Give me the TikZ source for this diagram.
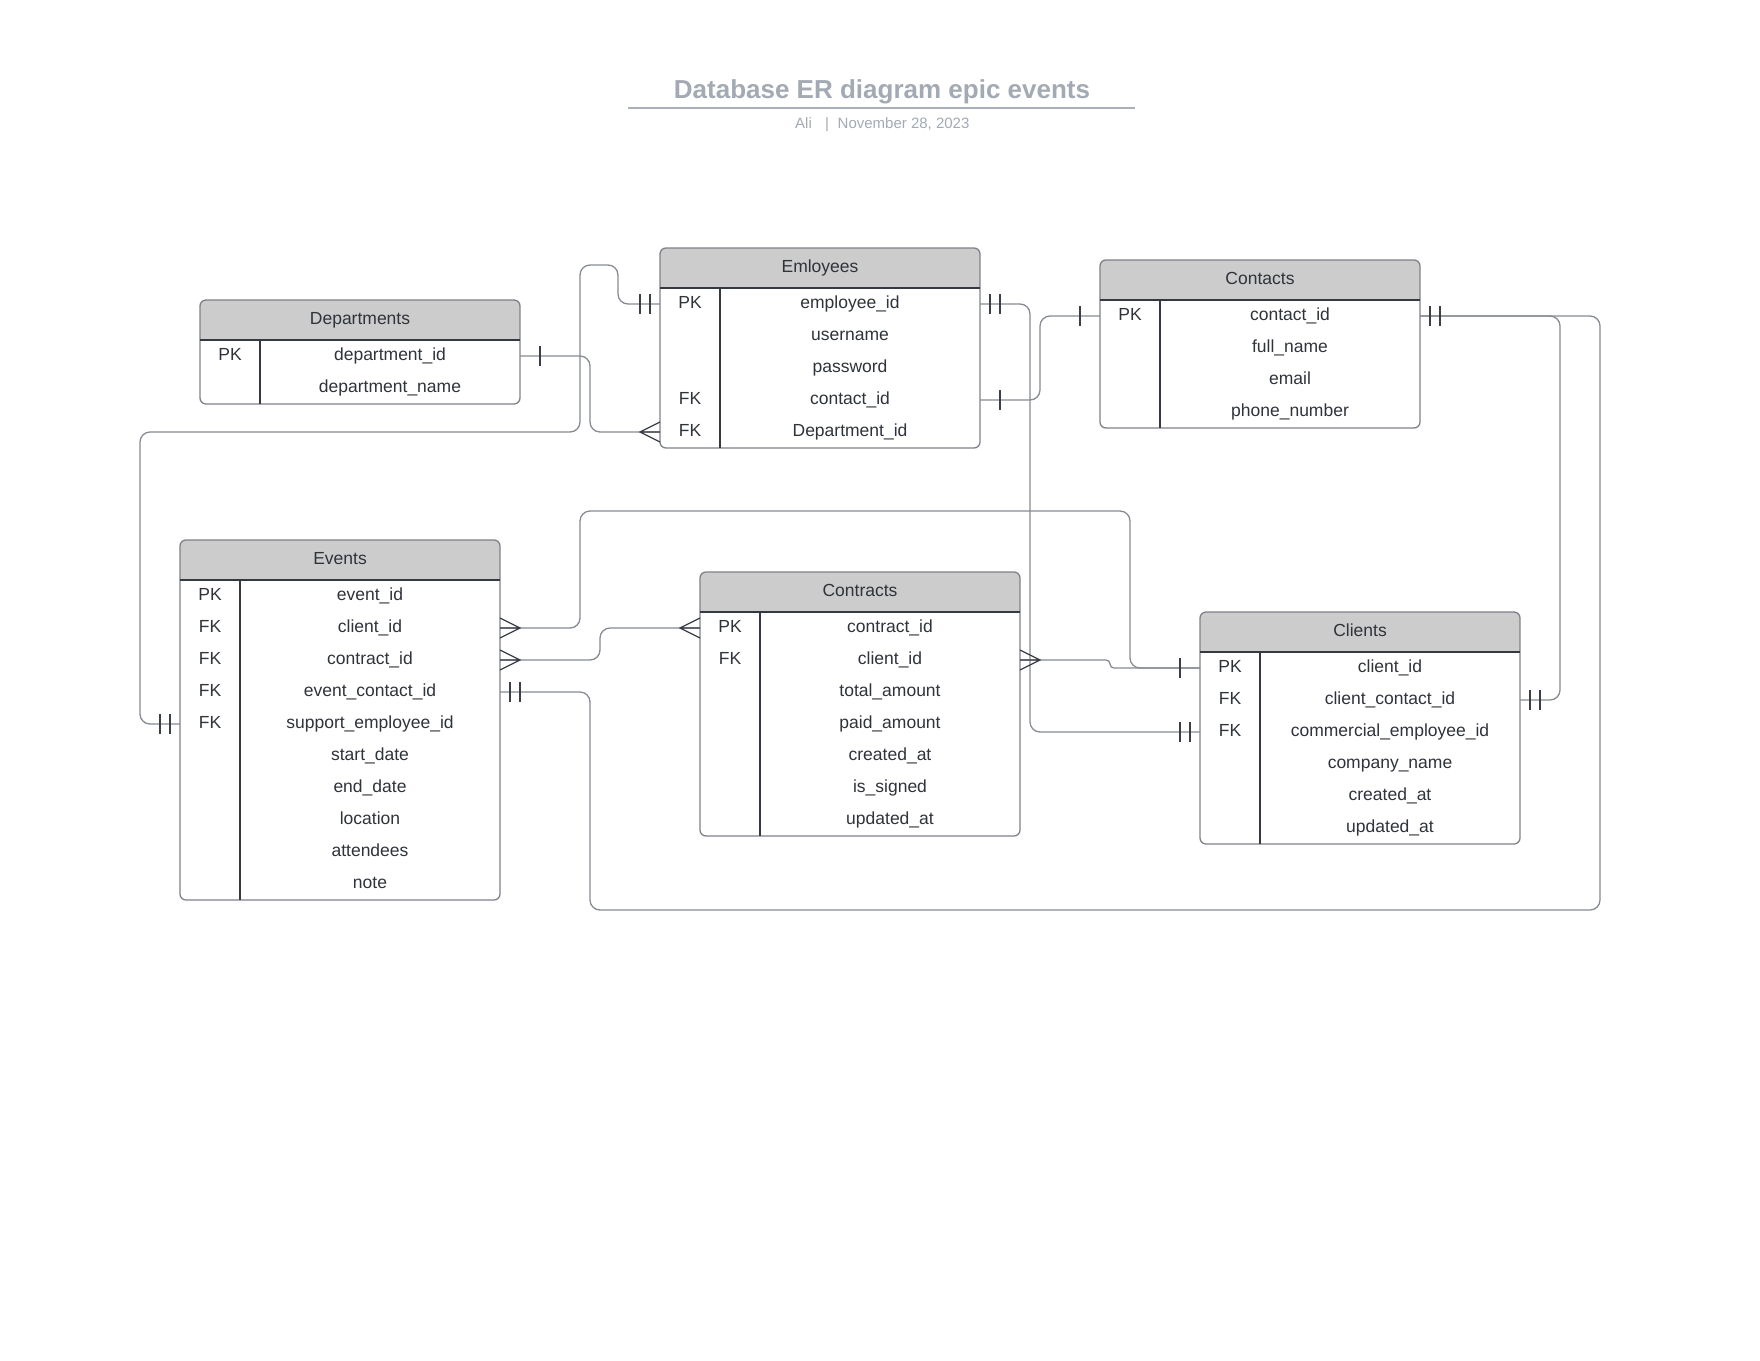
\documentclass[tikz,border=0pt]{standalone}
\usepackage{fontspec}
\setmainfont{Liberation Sans}
\usetikzlibrary{calc}

\definecolor{ink}{HTML}{2F333A}
\definecolor{frame}{HTML}{7E828A}
\definecolor{rulecol}{HTML}{353940}
\definecolor{headfill}{HTML}{CCCCCC}
\definecolor{wirecol}{HTML}{878B93}
\definecolor{tickcol}{HTML}{3A3E46}
\definecolor{titlegray}{HTML}{A4AAB3}
\definecolor{underl}{HTML}{A9B0BA}

\tikzset{
  cell/.style={font=\fontsize{17.5}{21}\selectfont, text=ink, anchor=base, inner sep=0pt},
  subtext/.style={font=\fontsize{15}{18}\selectfont, text=titlegray, inner sep=0pt},
  rowbox/.style={minimum width=320pt, minimum height=32pt, inner sep=0pt, outer sep=0pt},
  tframe/.style={draw=frame, line width=1.3pt, rounded corners=6pt},
  trule/.style={draw=rulecol, line width=1.2pt},
  wire/.style={draw=wirecol, line width=1.3pt, rounded corners=10pt},
  tickline/.style={draw=tickcol, line width=1.3pt},
  one/.pic={\draw[tickline] (20,-10) -- (20,10);},
  oneonly/.pic={\draw[tickline] (10,-10) -- (10,10) (20,-10) -- (20,10);},
  many/.pic={\draw[tickline] (0,-10) -- (20,0) -- (0,10) (0,0) -- (20,0);},
}

% entity table: id, left x, top y, title, rows as key/field
\newcommand\ertable[5]{%
  \foreach [count=\i] \k/\f in {#5}{%
    \node[rowbox] (#1-\i) at ({#2+160},{#3+24+32*\i}) {};
    \node[cell] at ({#2+30},{#3+28+32*\i}) {\k};
    \node[cell] at ({#2+190},{#3+28+32*\i}) {\f};
    \xdef\ernrows{\i}}%
  \pgfmathsetmacro\erbot{#3+40+32*\ernrows}
  \begin{scope}
    \clip[rounded corners=6pt] (#2,#3) rectangle ({#2+320},\erbot);
    \fill[headfill] (#2,#3) rectangle ({#2+320},{#3+40});
  \end{scope}
  \draw[tframe] (#2,#3) rectangle ({#2+320},\erbot);
  \draw[trule] (#2,{#3+40}) -- ({#2+320},{#3+40}) ({#2+60},{#3+40}) -- ({#2+60},\erbot);
  \node[cell] (#1) at ({#2+160},{#3+24}) {#4};
}

\begin{document}
\begin{tikzpicture}[x=1pt,y=-1pt]
\useasboundingbox[fill=white] (0,0) rectangle (1760,1360);

% title block
\node[font=\fontsize{26}{31}\selectfont\bfseries, text=titlegray, anchor=base, inner sep=0pt] (title) at (882,98) {Database ER diagram epic events};
\draw[draw=underl, line width=1.8pt] (628,108) -- (1135,108);
\node[subtext, anchor=base west] (author) at (795,128) {Ali};
\node[subtext, anchor=base] (sep) at (827,128) {|};
\node[subtext, anchor=base west] (date) at (837.5,128) {November 28, 2023};

% entities
\ertable{dep}{200}{300}{Departments}{PK/department\_id, /department\_name}
\ertable{emp}{660}{248}{Emloyees}{PK/employee\_id, /username, /password, FK/contact\_id, FK/Department\_id}
\ertable{con}{1100}{260}{Contacts}{PK/contact\_id, /full\_name, /email, /phone\_number}
\ertable{evt}{180}{540}{Events}{PK/event\_id, FK/client\_id, FK/contract\_id, FK/event\_contact\_id, FK/support\_employee\_id, /start\_date, /end\_date, /location, /attendees, /note}
\ertable{ctr}{700}{572}{Contracts}{PK/contract\_id, FK/client\_id, /total\_amount, /paid\_amount, /created\_at, /is\_signed, /updated\_at}
\ertable{cli}{1200}{612}{Clients}{PK/client\_id, FK/client\_contact\_id, FK/commercial\_employee\_id, /company\_name, /created\_at, /updated\_at}

% relationships
\draw[wire] (evt-5.west) -| (140,432) -| (580,265) -| (618,304) -- (emp-1.west);
\draw[wire] (dep-1.east) -| (590,432) -- (emp-5.west);
\draw[wire] (emp-1.east) -| (1030,732) -- (cli-3.west);
\draw[wire] (emp-4.east) -| (1040,316) -- (con-1.west);
\draw[wire] (con-1.east) -| (1560,700) -- (cli-2.east);
\draw[wire] (con-1.east) -| (1600,910) -| (590,692) -- (evt-4.east);
\draw[wire] (evt-2.east) -| (580,511) -| (1130,668) -- (cli-1.west);
\draw[wire] (evt-3.east) -| (600,628) -- (ctr-1.west);
\draw[wire, rounded corners=4pt] (ctr-2.east) -| (1110,668) -- (cli-1.west);

% cardinality marks
\pic at (dep-1.east) {one};
\pic[xscale=-1] at (emp-5.west) {many};
\pic[xscale=-1] at (evt-5.west) {oneonly};
\pic[xscale=-1] at (emp-1.west) {oneonly};
\pic at (emp-1.east) {oneonly};
\pic[xscale=-1] at (cli-3.west) {oneonly};
\pic at (emp-4.east) {one};
\pic[xscale=-1] at (con-1.west) {one};
\pic at (con-1.east) {oneonly};
\pic at (cli-2.east) {oneonly};
\pic at (evt-4.east) {oneonly};
\pic at (evt-2.east) {many};
\pic[xscale=-1] at (cli-1.west) {one};
\pic at (evt-3.east) {many};
\pic[xscale=-1] at (ctr-1.west) {many};
\pic at (ctr-2.east) {many};
\end{tikzpicture}
\end{document}
